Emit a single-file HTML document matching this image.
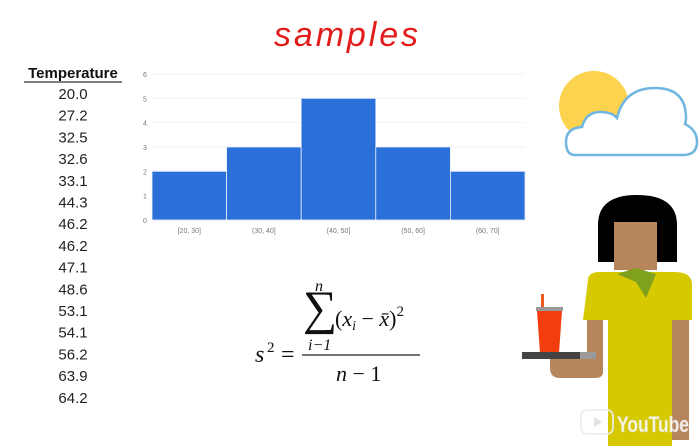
<!DOCTYPE html>
<html><head><meta charset="utf-8"><style>
body{margin:0;background:#fff;width:699px;height:446px;overflow:hidden;font-family:"Liberation Sans",sans-serif}
svg{display:block}
</style></head><body>
<svg width="699" height="446" viewBox="0 0 699 446" xmlns="http://www.w3.org/2000/svg">
<text x="274" y="46" font-family="Liberation Sans, sans-serif" font-size="34" fill="#e21b1b" font-style="italic" font-weight="300" letter-spacing="6" textLength="150">samples</text>
<g>
<text x="73" y="78" text-anchor="middle" font-weight="bold" font-size="15" fill="#111">Temperature</text>
<line x1="24" y1="82" x2="122" y2="82" stroke="#333" stroke-width="1.2"/>
<g id="temps"></g>
</g>
<g id="chart"></g>
<g font-family="Liberation Serif, serif" fill="#111">
<text x="255" y="362" font-size="24" font-style="italic">s</text>
<text x="267" y="352" font-size="15">2</text>
<text x="281" y="362" font-size="24">=</text>
<text x="315" y="291" font-size="16" font-style="italic">n</text>
<text x="303" y="324" font-size="48">∑</text>
<text x="308" y="350" font-size="16" font-style="italic">i−1</text>
<text x="335" y="326" font-size="22">(<tspan font-style="italic">x</tspan><tspan font-size="14" font-style="italic" dy="4">i</tspan><tspan dy="-4"> − </tspan><tspan font-style="italic">x̄</tspan>)<tspan font-size="15" dy="-10">2</tspan></text>
<line x1="302" y1="355" x2="420" y2="355" stroke="#222" stroke-width="1.2"/>
<text x="336" y="381" font-size="22"><tspan font-style="italic">n</tspan> − 1</text>
</g>
<g>
<circle cx="594" cy="106" r="35" fill="#fbd34f"/>
<path d="M575,155 Q566,155 566,142 Q566,128 582,127 Q586,112 600,112 Q612,112 617,118 Q624,88 655,88 Q686,88 686,118 Q686,121 685,124 Q697,130 697,142 Q697,155 683,155 Z" fill="#fff" stroke="#6fb6e0" stroke-width="2.5"/>
</g>
<g>
<path d="M598,262 L598,225 Q598,195 637,195 Q677,195 677,225 L677,262 Z" fill="#000"/>
<rect x="614" y="222" width="43" height="48" fill="#b7855b"/>
<rect x="628" y="262" width="16" height="14" fill="#b7855b"/>
<path d="M588,280 Q588,272 600,272 L675,272 Q692,272 692,285 L692,320 L672,320 L672,446 L608,446 L608,320 L583,320 Z" fill="#d6c900"/>
<path d="M617,274 L636,268 L656,274 L646,298 L636,282 Z" fill="#7fa11e"/>
<rect x="587" y="320" width="16" height="52" fill="#b7855b"/>
<path d="M550,352 L603,352 L603,372 Q603,378 595,378 L560,378 Q550,378 550,368 Z" fill="#b7855b"/>
<rect x="672" y="320" width="17" height="120" fill="#b7855b"/>
<rect x="541" y="294" width="3" height="14" fill="#f05a22"/>
<rect x="536" y="307" width="27" height="4" fill="#999"/>
<path d="M537,311 L562,311 L559,353 L540,353 Z" fill="#f23d0e"/>
<rect x="522" y="352" width="60" height="7" fill="#444"/>
<rect x="580" y="352" width="16" height="7" fill="#9a9a9a"/>
</g>
<g opacity="0.85">
<rect x="581" y="410" width="32" height="24" rx="6" fill="none" stroke="#eee" stroke-width="2"/>
<path d="M594,417 L602,422 L594,427 Z" fill="#ddd"/>
<text x="617" y="432" font-size="22" font-weight="bold" fill="#fff" stroke="#ddd" stroke-width="0.5" textLength="72" lengthAdjust="spacingAndGlyphs">YouTube</text>
</g>
</svg>
<script>
const temps=["20.0","27.2","32.5","32.6","33.1","44.3","46.2","46.2","47.1","48.6","53.1","54.1","56.2","63.9","64.2"];
const categories=["[20, 30]","(30, 40]","(40, 50]","(50, 60]","(60, 70]"];
const counts=[2,3,5,3,2];
const yTicks=[0,1,2,3,4,5,6];
const NS="http://www.w3.org/2000/svg";
function mk(t,a,p){const e=document.createElementNS(NS,t);for(const k in a)e.setAttribute(k,a[k]);p.appendChild(e);return e;}
const tg=document.getElementById('temps');
temps.forEach((v,i)=>{const t=mk('text',{x:73,y:99+i*21.7,'text-anchor':'middle','font-size':15,fill:'#222'},tg);


t.textContent=v;});
const g=document.getElementById('chart');
const x0=152,x1=525,yBase=220,yTop=74,yMax=6;
const ys=v=>yBase-(v/yMax)*(yBase-yTop);
const bw=(x1-x0)/categories.length;
yTicks.forEach(v=>{
 if(v>0){const l=mk('line',{x1:x0,x2:x1,y1:ys(v),y2:ys(v),stroke:'#f2f2f2'},g);
 
 }
 const t=mk('text',{x:145,y:ys(v)+3,'text-anchor':'middle','font-size':7,fill:'#777'},g);
 
 
 t.textContent=v;});
counts.forEach((c,i)=>{
 const r=mk('rect',{x:x0+i*bw,y:ys(c),width:bw,height:yBase-ys(c),fill:'#2b6fd8',stroke:'#e8eefa','stroke-width':0.8},g);
 
 
 const t=mk('text',{x:x0+(i+0.5)*bw,y:233,'text-anchor':'middle','font-size':7,fill:'#777'},g);
 
 
 t.textContent=categories[i];});
</script>
</body></html>
